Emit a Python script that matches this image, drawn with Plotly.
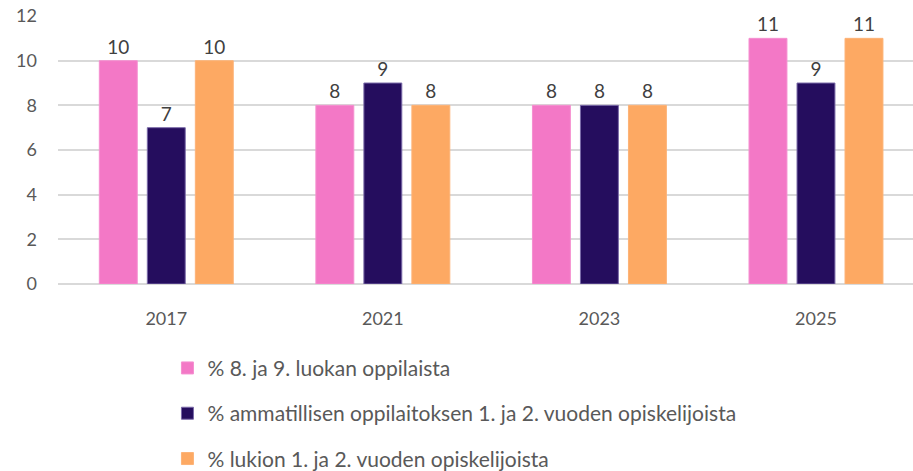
import plotly.graph_objects as go

years = ["2017", "2021", "2023", "2025"]
series_names = [
    "% 8. ja 9. luokan oppilaista",
    "% ammatillisen oppilaitoksen 1. ja 2. vuoden opiskelijoista",
    "% lukion 1. ja 2. vuoden opiskelijoista",
]
perus = [10, 8, 8, 11]
ammatillinen = [7, 9, 8, 9]
lukio = [10, 8, 8, 11]
y_ticks = [0, 2, 4, 6, 8, 10, 12]

colors = ["#F378C6", "#250D5E", "#FDA963"]
lines = ["#F58FD0", "#7A6AA8", "#FDB377"]
FONT = "Lato"

fig = go.Figure()
for i, (name, vals) in enumerate(zip(series_names, [perus, ammatillinen, lukio])):
    fig.add_trace(go.Bar(
        x=years, y=vals, name=name,
        marker=dict(color=colors[i], line=dict(color=lines[i], width=1)),
        text=vals, textposition="outside", cliponaxis=False,
        textfont=dict(family=FONT, size=19, color="#404040"),
        legendgroup=f"g{i}",
    ))

fig.update_layout(
    width=913, height=471,
    margin=dict(l=57.5, r=0, t=16, b=187, autoexpand=False),
    plot_bgcolor="white", paper_bgcolor="white",
    barmode="group", bargap=0.335, bargroupgap=0.21,
    font=dict(family=FONT, color="#595959"),
    showlegend=True,
    legend=dict(
        orientation="v", x=0.128, xanchor="left", y=-0.238, yanchor="top",
        font=dict(family=FONT, size=21, color="#595959"),
        tracegroupgap=15, traceorder="grouped",
        itemclick=False,
    ),
    xaxis=dict(
        type="category", range=[-0.5, 3.448], automargin=False,
        showgrid=False, showline=False, zeroline=False, ticks="",
        tickfont=dict(family=FONT, size=18, color="#595959"),
        ticklabelstandoff=22,
    ),
    yaxis=dict(
        range=[0, 12.001], tickvals=y_ticks, automargin=False,
        showgrid=True, gridcolor="#D9D9D9", gridwidth=2,
        zeroline=True, zerolinecolor="#D9D9D9", zerolinewidth=2,
        showline=False, ticks="", ticklabeloverflow="allow",
        tickfont=dict(family=FONT, size=18, color="#595959"),
        ticklabelstandoff=20,
    ),
)

# remove the browser's default 8px body margin so the figure fills the window
fig.write_html(
    "out.html",
    config={"displayModeBar": False},
    post_script="document.body.style.margin='0';document.body.style.overflow='hidden';",
)
